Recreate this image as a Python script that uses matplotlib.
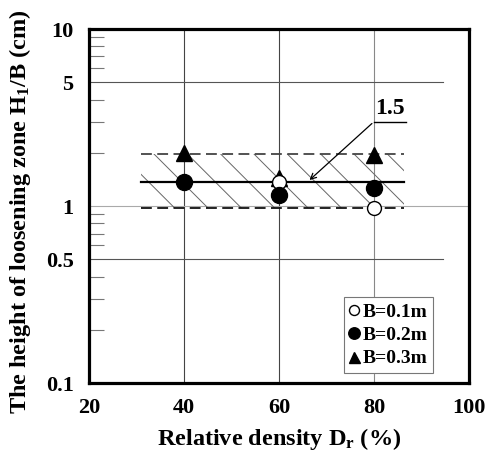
import matplotlib
matplotlib.use("Agg")
import matplotlib.pyplot as plt
from matplotlib.ticker import FixedLocator, NullFormatter

plt.rcParams['font.family'] = ['Liberation Serif', 'DejaVu Serif']
plt.rcParams['font.weight'] = 'bold'
plt.rcParams['mathtext.fontset'] = 'custom'
plt.rcParams['mathtext.rm'] = 'Liberation Serif:bold'
plt.rcParams['mathtext.default'] = 'rm'
plt.rcParams['hatch.linewidth'] = 0.7

# data
dr_01 = [60, 80]
h_01 = [1.37, 0.98]
dr_02 = [40, 60, 80]
h_02 = [1.37, 1.15, 1.27]
dr_03 = [40, 60, 80]
h_03 = [2.0, 1.44, 1.94]

band_x = [31, 86.3]
band_low = 0.98
band_high = 1.97
band_mid = 1.37

yticks = [0.1, 0.5, 1, 5, 10]
ytick_labels = ['0.1', '0.5', '1', '5', '10']
yminor = [0.2, 0.3, 0.4, 0.6, 0.7, 0.8, 0.9, 2, 3, 4, 6, 7, 8, 9]
xticks = [20, 40, 60, 80, 100]

fig = plt.figure(figsize=(4.86, 4.54), dpi=100)
ax = fig.add_axes([0.183, 0.156, 0.782, 0.780])
ax.set_yscale('log')
ax.set_xlim(20, 100)
ax.set_ylim(0.1, 10)

# grid lines
for xv in [40, 60]:
    ax.axvline(xv, color='#444444', lw=0.8, zorder=1)
ax.axvline(80, color='#888888', lw=0.8, zorder=1)
for yv in [0.5, 5]:
    ax.plot([20, 94.5], [yv, yv], color='#555555', lw=0.8, zorder=1)
ax.axhline(1, color='#aaaaaa', lw=0.8, zorder=1)

# hatched band
ax.fill_between(band_x, band_low, band_high, facecolor='none',
                edgecolor='#666666', linewidth=0, hatch='\\', zorder=2)
ax.plot(band_x, [band_high] * 2, color='#444444', lw=1.3, ls=(0, (6, 3)), zorder=3)
ax.plot(band_x, [band_low] * 2, color='#111111', lw=1.3, ls=(0, (6, 3)), zorder=3)
ax.plot(band_x, [band_mid] * 2, color='black', lw=1.6, zorder=3)

# annotation "1.5"
ax.plot([80, 86.7], [3.0, 3.0], color='black', lw=1.0, zorder=3)
ax.annotate('', xy=(66.0, band_mid), xytext=(80, 3.0),
            arrowprops=dict(arrowstyle='->', color='black', lw=0.9,
                            mutation_scale=10), zorder=3)
ax.text(80.2, 3.1, '1.5', fontsize=17, fontweight='bold', ha='left',
        va='bottom')

# data points
ax.plot(dr_03, h_03, ls='none', marker='^', ms=11, color='black',
        label='B=0.3m', zorder=4)
ax.plot(dr_01, h_01, ls='none', marker='o', ms=10, mfc='white',
        mec='black', mew=1.0, label='B=0.1m', zorder=5)
ax.plot(dr_02, h_02, ls='none', marker='o', ms=11.5, color='black',
        label='B=0.2m', zorder=6)

handles, labels = ax.get_legend_handles_labels()
order = [1, 2, 0]
leg = ax.legend([handles[i] for i in order], [labels[i] for i in order],
                loc='lower right', bbox_to_anchor=(0.905, 0.028),
                fontsize=14, markerscale=0.72, handlelength=0.5,
                handletextpad=0.15, borderpad=0.3, labelspacing=0.3,
                fancybox=False, framealpha=1, edgecolor='#777777',
                borderaxespad=0)
leg.get_frame().set_linewidth(0.8)

# ticks
ax.yaxis.set_major_locator(FixedLocator(yticks))
ax.set_yticklabels(ytick_labels)
ax.yaxis.set_minor_locator(FixedLocator(yminor))
ax.yaxis.set_minor_formatter(NullFormatter())
ax.set_xticks(xticks)
ax.tick_params(axis='both', which='major', length=0, labelsize=16, pad=11)
ax.tick_params(axis='y', which='minor', direction='in', length=11,
               width=0.8, color='#777777', left=True, right=False)
for lab in ax.get_xticklabels() + ax.get_yticklabels():
    lab.set_fontweight('bold')

for sp in ax.spines.values():
    sp.set_linewidth(2.3)
    sp.set_zorder(7)

ax.set_xlabel('Relative density D$_r$ (%)', fontsize=17.5, fontweight='bold')
ax.set_ylabel('The height of loosening zone H$_1$/B (cm)', fontsize=17.5,
              fontweight='bold')
ax.xaxis.set_label_coords(0.5, -0.122)
ax.yaxis.set_label_coords(-0.148, 0.486)

fig.savefig('out.png', dpi=100)
